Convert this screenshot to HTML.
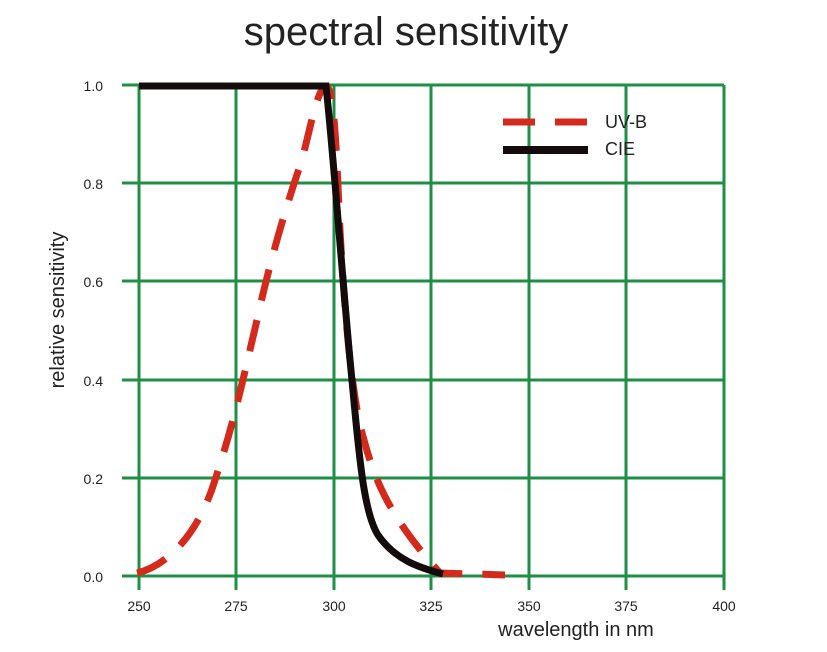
<!DOCTYPE html>
<html><head><style>body{margin:0;background:#fff}svg{display:block}text{font-family:"Liberation Sans",sans-serif;fill:#222}</style></head>
<body>
<svg width="827" height="652" viewBox="0 0 827 652" xmlns="http://www.w3.org/2000/svg">
<text x="406" y="45" font-size="40" text-anchor="middle">spectral sensitivity</text>
<g stroke="#1f8f45" stroke-width="3">
<line x1="122" y1="85" x2="724" y2="85"/>
<line x1="122" y1="183" x2="724" y2="183"/>
<line x1="122" y1="281" x2="724" y2="281"/>
<line x1="122" y1="380" x2="724" y2="380"/>
<line x1="122" y1="478" x2="724" y2="478"/>
<line x1="122" y1="576" x2="724" y2="576"/>
<line x1="139" y1="85" x2="139" y2="590"/>
<line x1="236" y1="85" x2="236" y2="590"/>
<line x1="334" y1="85" x2="334" y2="590"/>
<line x1="431" y1="85" x2="431" y2="590"/>
<line x1="529" y1="85" x2="529" y2="590"/>
<line x1="626" y1="85" x2="626" y2="590"/>
<line x1="724" y1="85" x2="724" y2="590"/>
</g>
<g font-size="14" text-anchor="end">
<text x="103" y="91">1.0</text><text x="103" y="189">0.8</text><text x="103" y="287">0.6</text>
<text x="103" y="386">0.4</text><text x="103" y="484">0.2</text><text x="103" y="582">0.0</text>
</g>
<g font-size="14" text-anchor="middle">
<text x="139" y="611">250</text><text x="236" y="611">275</text><text x="334" y="611">300</text><text x="431" y="611">325</text><text x="529" y="611">350</text><text x="626" y="611">375</text><text x="724" y="611">400</text>
</g>
<text x="576" y="636" font-size="20" text-anchor="middle">wavelength in nm</text>
<text transform="translate(64,310) rotate(-90)" font-size="20" text-anchor="middle">relative sensitivity</text>
<path d="M137,573 C170,565 200,530 215,480 C235,420 245,370 257,320 C270,260 288,200 302,160 C312,120 318,88 326,86 C334,88 336,140 340,230 C345,320 352,400 364,440 C377,490 397,525 440,573 L505,575" fill="none" stroke="#d42a1c" stroke-width="7" stroke-dasharray="32,20"/>
<path d="M139,86 L326,86 C333,150 340,250 350,360 C358,440 362,510 378,535 C395,560 420,568 443,574" fill="none" stroke="#140c0c" stroke-width="7"/>
<line x1="503" y1="122" x2="590" y2="122" stroke="#d42a1c" stroke-width="7" stroke-dasharray="32,20"/>
<line x1="503" y1="150" x2="588" y2="150" stroke="#140c0c" stroke-width="8"/>
<text x="605" y="128" font-size="18">UV-B</text>
<text x="605" y="155" font-size="18">CIE</text>
</svg>
</body></html>
